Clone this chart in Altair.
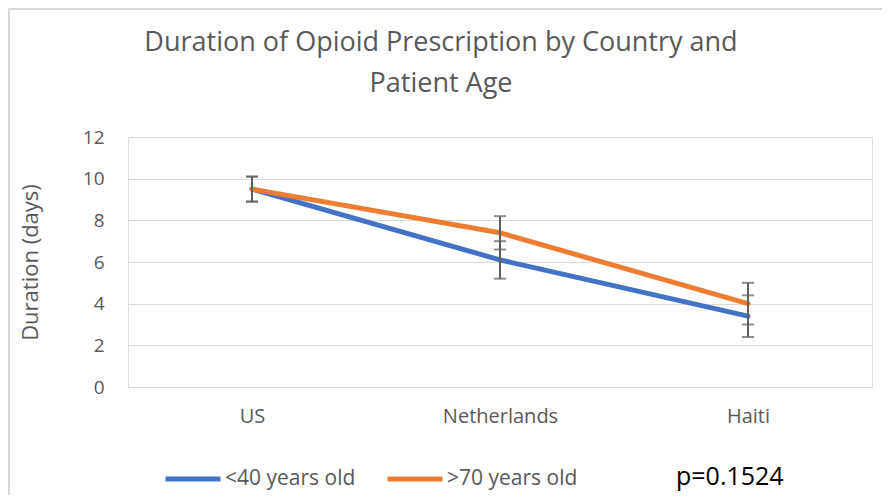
import altair as alt
import pandas as pd

countries = ["US", "Netherlands", "Haiti"]
groups = ["<40 years old", ">70 years old"]
young = [9.5, 6.1, 3.4]
old = [9.5, 7.4, 4.0]
young_err = [0.6, 0.9, 1.0]
old_err = [0.6, 0.8, 1.0]
title_lines = ["Duration of Opioid Prescription by Country and", "Patient Age"]

rows = []
for g, vals, errs in [(groups[0], young, young_err), (groups[1], old, old_err)]:
    for c, v, e in zip(countries, vals, errs):
        rows.append({"Country": c, "Group": g, "Duration": v, "lo": v - e, "hi": v + e})
df = pd.DataFrame(rows)

GRAY = "#595959"
x = alt.X("Country:N", sort=countries, title=None,
          scale=alt.Scale(type="point", padding=0.5),
          axis=alt.Axis(labelAngle=0, labelFontSize=20, labelColor=GRAY, labelPadding=19,
                        ticks=False, domainColor="#d9d9d9", domainWidth=1, labelFont="Open Sans"))
y = alt.Y("Duration:Q", title="Duration (days)",
          scale=alt.Scale(domain=[0, 12], nice=False),
          axis=alt.Axis(values=[0, 2, 4, 6, 8, 10, 12], labelFontSize=19, labelColor=GRAY,
                        labelPadding=24, ticks=False, domain=False, gridColor="#d9d9d9",
                        titleFontSize=22, titleFontWeight="normal", titleColor=GRAY,
                        titlePadding=40, labelFont="Open Sans", titleFont="Open Sans"))

color = alt.Color("Group:N", scale=alt.Scale(domain=groups, range=["#4472C4", "#ED7D31"]),
                  legend=alt.Legend(title=None, orient="none", legendX=35, legendY=312,
                                    direction="horizontal", symbolType="stroke",
                                    symbolSize=3025, symbolStrokeWidth=5,
                                    labelFontSize=21, labelColor=GRAY, labelFont="Open Sans",
                                    columnPadding=21, labelOffset=2))

one = pd.DataFrame({"a": [0]})
frame_top = alt.Chart(one).mark_rule(stroke="#d9d9d9", strokeWidth=2).encode(
    x=alt.value(-120), x2=alt.value(754), y=alt.value(-128))
frame_left = alt.Chart(one).mark_rule(stroke="#d9d9d9", strokeWidth=2).encode(
    x=alt.value(-119), y=alt.value(-129), y2=alt.value(358))

tdf = pd.DataFrame({"t": title_lines, "line": [0, 1]})
title_marks = alt.Chart(tdf).mark_text(
    align="center", baseline="middle", fontSize=27, color=GRAY, font="Open Sans").encode(
    text="t:N", x=alt.value(313),
    y=alt.Y("line:Q", scale=alt.Scale(domain=[0, 1], range=[-94, -53]), axis=None))

lines = alt.Chart(df).mark_line(strokeWidth=5, strokeCap="round", strokeJoin="round").encode(
    x=x, y=y, color=color, order=alt.Order("Group:N"))

rules = alt.Chart(df).mark_rule(color="#5f5f5f", strokeWidth=2).encode(
    x=alt.X("Country:N", sort=countries), y=alt.Y("lo:Q"), y2="hi:Q")
caps_lo = alt.Chart(df).mark_tick(color="#5f5f5f", thickness=2, size=12).encode(
    x=alt.X("Country:N", sort=countries), y=alt.Y("lo:Q"))
caps_hi = alt.Chart(df).mark_tick(color="#5f5f5f", thickness=2, size=12).encode(
    x=alt.X("Country:N", sort=countries), y=alt.Y("hi:Q"))

ptext = alt.Chart(pd.DataFrame({"t": ["p=0.1524"]})).mark_text(
    align="left", baseline="middle", fontSize=25, color="black", font="Open Sans").encode(
    text="t:N", x=alt.value(548), y=alt.value(340))

main = alt.layer(frame_top, frame_left, lines, rules, caps_lo, caps_hi, ptext)
chart = alt.layer(main, title_marks).resolve_scale(y="independent").properties(
    width=744, height=250,
    autosize=alt.AutoSizeParams(type="none"),
    padding={"left": 120, "top": 129, "right": 11, "bottom": 109},
).configure_view(stroke=None).configure(background="white")

chart.save("out.html", embed_options={"renderer": "svg", "actions": False})
